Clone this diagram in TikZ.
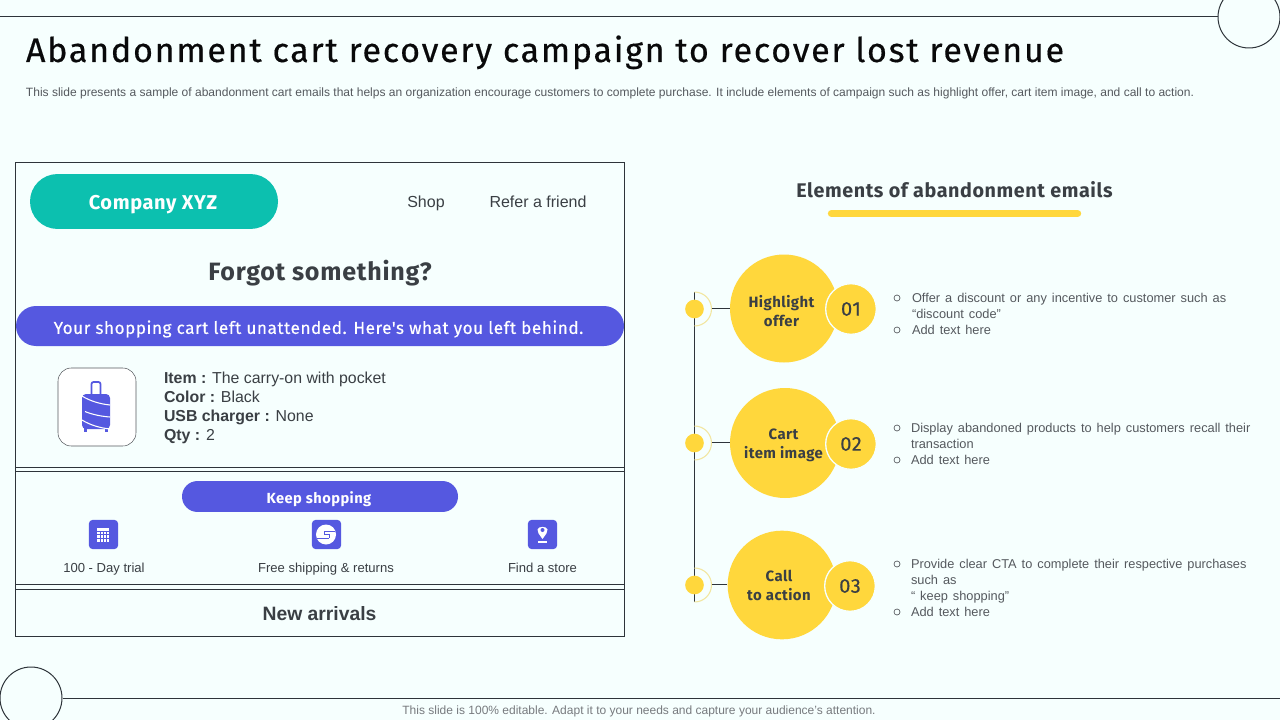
\documentclass[tikz,border=0pt]{standalone}
\usepackage{fontspec}
\setmainfont{Liberation Sans}
\newfontfamily\din[LetterSpace=5.3,FakeBold=0.45]{Fira Sans}
\newfontfamily\dinb[LetterSpace=3]{Fira Sans}
\newfontfamily\dinm[LetterSpace=3,FakeBold=0.3]{Fira Sans}
\newfontfamily\notef[WordSpace=1.4]{Liberation Sans}
\definecolor{bgc}{HTML}{F6FFFE}
\definecolor{tealc}{HTML}{0CC0AF}
\definecolor{purp}{HTML}{5558E0}
\definecolor{yel}{HTML}{FFD73C}
\definecolor{ink}{HTML}{3A3F44}
\definecolor{lineC}{HTML}{2E343A}
\definecolor{grayt}{HTML}{55595E}
\definecolor{ringcol}{HTML}{F2E6A0}
\tikzset{
  x=0.75pt,y=-0.75pt,
  rule/.style={draw=lineC,line width=0.75pt},
  txt/.style={inner sep=0pt,outer sep=0pt,text=ink},
  note/.style={txt,text=grayt,align=left,anchor=north west,font=\notef\fontsize{9.6pt}{12pt}\selectfont},
  bul/.style={circle,draw=grayt,line width=0.5pt,minimum size=4.5pt,inner sep=0pt,fill=none},
  bigc/.style={circle,fill=yel,inner sep=0pt},
  bigt/.style={txt,align=center,font=\dinb\bfseries\fontsize{11.2pt}{14.25pt}\selectfont},
  numc/.style={circle,fill=yel,draw=bgc,line width=1pt,inner sep=0pt,minimum size=38pt,text=ink,font=\dinm\fontsize{15pt}{18pt}\selectfont},
  dotc/.style={circle,fill=yel,minimum size=14pt,inner sep=0pt},
  iconbox/.style={fill=purp,rounded corners=3pt,minimum width=22pt,minimum height=22pt,inner sep=0pt},
  captxt/.style={txt,anchor=base,font=\fontsize{9.8pt}{12pt}\selectfont}
}
\begin{document}
\begin{tikzpicture}
\useasboundingbox (0,0) rectangle (1280,720);
\fill[bgc] (0,0) rectangle (1280,720);
% frame lines and circles
\node[circle,rule,minimum size=46.5pt,inner sep=0pt] (topc) at (1249,17) {};
\node[circle,rule,minimum size=46.5pt,inner sep=0pt] (botc) at (31,698) {};
\coordinate (tl) at (0,16.5); \coordinate (br) at (1280,698.5);
\draw[rule] (tl) -- (topc.west|-tl);
\draw[rule] (botc.east|-br) -- (br);
% heading
\node[txt,anchor=base west,font=\din\fontsize{25.5pt}{30pt}\selectfont,text=black!85!ink] (title) at (26,62) {Abandonment cart recovery campaign to recover lost revenue};
\node[txt,anchor=base west,text=grayt,font=\fontsize{9.02pt}{11pt}\selectfont] (sub) at (26,97) {This slide presents a sample of abandonment cart emails that helps an organization encourage customers to complete purchase. It include elements of campaign such as highlight offer, cart item image, and call to action.};
\node[txt,anchor=base,text=grayt!80,font=\fontsize{9pt}{11pt}\selectfont] (foot) at (639,714) {This slide is 100\% editable. Adapt it to your needs and capture your audience's attention.};
% email box
\draw[rule] (15.5,162.5) rectangle (624.5,636.5);
\draw[rule] (15.5,467.5) -- (624.5,467.5);
\draw[rule] (15.5,471.5) -- (624.5,471.5);
\draw[rule] (15.5,584.5) -- (624.5,584.5);
\draw[rule] (15.5,589.5) -- (624.5,589.5);
\node[fill=tealc,rounded corners=20.6pt,minimum width=186pt,minimum height=41.2pt,inner sep=0pt] (company) at (154,201.5) {};
\node[txt,text=white,font=\dinb\bfseries\fontsize{15pt}{17pt}\selectfont] at (153,205) (companyt) {Company XYZ};
\node[txt,anchor=base,font=\fontsize{12pt}{14pt}\selectfont] (shop) at (426,208) {Shop};
\node[txt,anchor=base,font=\fontsize{12pt}{14pt}\selectfont] (refer) at (538,208) {Refer a friend};
\node[txt,font=\dinb\bfseries\fontsize{18.8pt}{21pt}\selectfont] (forgot) at (320,273) {Forgot something?};
\node[fill=purp,rounded corners=15pt,minimum width=456pt,minimum height=30pt,inner sep=0pt] (bar) at (320,326) {};
\node[txt,text=white,font=\dinm\fontsize{12.9pt}{16pt}\selectfont] (bart) at (318.5,329) {Your shopping cart left unattended. Here's what you left behind.};
% suitcase card
\node[draw=grayt,fill=white,rounded corners=10pt,minimum width=58.5pt,minimum height=58.5pt,inner sep=0pt] (card) at (97,407) {};
\draw[purp,line width=1.3pt,rounded corners=1.5pt] (91.5,395) -- (91.5,382) -- (100.5,382) -- (100.5,395);
\fill[purp,rounded corners=3pt] (82,394) rectangle (110,429);
\fill[purp] (84,428) rectangle (87,432);
\fill[purp] (105,428) rectangle (108,432);
\draw[white,line width=0.8pt] (82,396) .. controls (90,401) and (100,404) .. (110,405);
\draw[white,line width=0.8pt] (85,411.5) .. controls (92,414.5) and (102,416.5) .. (110,417);
\draw[white,line width=0.8pt] (82,420) .. controls (90,425) and (100,428) .. (110,429);
\node[txt,anchor=north west,align=left,font=\fontsize{11.9pt}{14.3pt}\selectfont] (item) at (164,372) {\textbf{Item :} The carry-on with pocket\\\textbf{Color :} Black\\\textbf{USB charger :} None\\\textbf{Qty :} 2};
% keep shopping
\node[fill=purp,rounded corners=11.6pt,minimum width=207pt,minimum height=23.2pt,inner sep=0pt] (keep) at (320,496.5) {};
\node[txt,text=white,font=\dinb\bfseries\fontsize{11pt}{13pt}\selectfont] (keept) at (319,499) {Keep shopping};
\node[iconbox] (ic1) at (103.5,534.5) {};
\fill[white] (97,528) rectangle (109,542);
\foreach \px in {100,103,106} {\draw[purp,line width=0.45pt] (\px,531) -- (\px,542);}
\foreach \py in {531,534.5,538} {\draw[purp,line width=0.45pt] (97,\py) -- (109,\py);}
\node[iconbox] (ic2) at (326.5,534.5) {};
\fill[white] (326,534.5) circle (7.5pt);
\draw[purp,line width=0.6pt] (324,531) -- (335,531) (317,538) -- (329,538) (324,531) -- (324,534.5) -- (329,534.5) -- (329,538);
\node[iconbox] (ic3) at (542.5,534.5) {};
\fill[white] (542.5,539) .. controls (539,534) and (537,532) .. (537.5,529.5) .. controls (538,526) and (547,526) .. (547.5,529.5) .. controls (548,532) and (546,534) .. (542.5,539) -- cycle;
\fill[purp] (542.5,530) circle (1.5pt);
\fill[white] (538,541) rectangle (547,542.5);
\node[captxt] (c1) at (104,572) {100 - Day trial};
\node[captxt] (c2) at (326,572) {Free shipping \& returns};
\node[captxt] (c3) at (542.5,572) {Find a store};
\node[txt,font=\bfseries\fontsize{14.5pt}{18pt}\selectfont] (newarr) at (319.5,613.5) {New arrivals};
% right panel
\node[txt,font=\dinb\bfseries\fontsize{14.8pt}{17pt}\selectfont] (elem) at (954.5,190) {Elements of abandonment emails};
\node[fill=yel,rounded corners=2.6pt,minimum width=190pt,minimum height=5.2pt,inner sep=0pt] (ul) at (954.5,213.5) {};
% timeline
\coordinate (tltop) at (694.5,292);
\coordinate (tlbot) at (694.5,602);
\draw[rule] (tltop) -- (tlbot);
\foreach \n/\cy in {a/309,b/443,c/585} {
  \node[dotc] (dot\n) at (694.5,\cy) {};
  \draw[ringcol,line width=0.8pt] (694.5,\cy-17) arc[start angle=90,end angle=-90,radius=17*0.75pt];
  \coordinate (ring\n) at (711.5,\cy-0.5);
}
\node[bigc,minimum size=81pt] (ba) at (784,308.5) {};
\node[bigc,minimum size=82.5pt] (bb) at (785,443) {};
\node[bigc,minimum size=81.5pt] (bc) at (782,585) {};
\node[bigt] (bat) at (781.5,311.5) {Highlight\\offer};
\node[bigt] (bbt) at (783.5,445) {Cart\\item image};
\node[bigt] (bct) at (779,585.5) {Call\\to action};
\draw[rule] (ringa) -- (ba.west|-ringa);
\draw[rule] (ringb) -- (bb.west|-ringb);
\draw[rule] (ringc) -- (bc.west|-ringc);
\node[numc] (na) at (851,309) {01};
\node[numc] (nb) at (851,444) {02};
\node[numc] (nc) at (850,586) {03};
% notes
\node[bul] (b1) at (897,298) {}; \node[bul] (b2) at (897,330) {};
\node[note] (t1) at (912,293) {Offer a discount or any incentive to customer such as\\“discount code”};
\node[note] (t2) at (912,325) {Add text here};
\node[bul] (b3) at (897,428) {}; \node[bul] (b4) at (897,460) {};
\node[note] (t3) at (911,423) {Display abandoned products to help customers recall their\\transaction};
\node[note] (t4) at (911,455) {Add text here};
\node[bul] (b5) at (897,564) {}; \node[bul] (b6) at (897,612) {};
\node[note] (t5) at (911,559) {Provide clear CTA to complete their respective purchases\\such as\\“ keep shopping”};
\node[note] (t6) at (911,607) {Add text here};
\end{tikzpicture}
\end{document}
